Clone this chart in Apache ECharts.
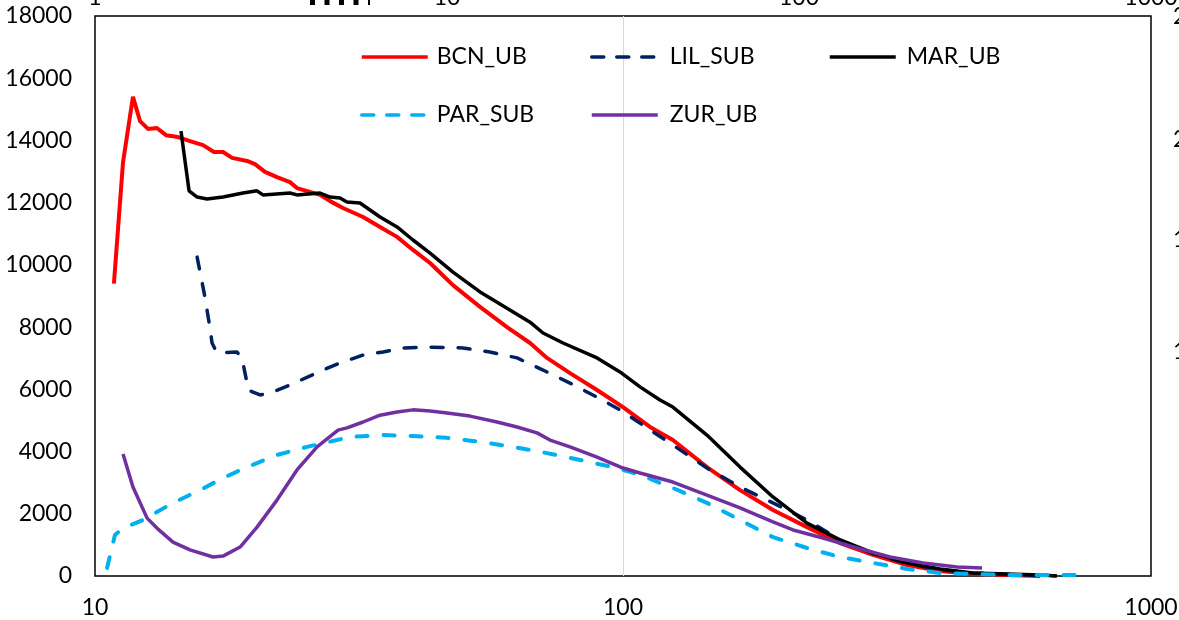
<!DOCTYPE html>
<html>
<head>
<meta charset="utf-8">
<script src="https://cdn.jsdelivr.net/npm/echarts@6/dist/echarts.min.js"></script>
<style>html,body{margin:0;padding:0;background:#fff}#c{width:1179px;height:620px}</style>
</head>
<body>
<div id="c"></div>
<script>
// ---- data ----
var bcnX = [10.86,11.30,11.80,12.17,12.60,13.10,13.63,14.36,15.13,16.02,16.80,17.48,18.18,19.41,20.09,20.99,22.11,23.40,24.13,26.68,27.87,29.49,32.19,34.66,37.33,40.02,43.11,47.64,53.61,60.30,66.68,71.78,79.36,89.29,100,112.5,124.3,144.2,166.6,192.3,223.1,257.6,297.5,345.1,398.5,460.3,533.8,616.4];
var bcnY = [9400,13300,15400,14620,14370,14400,14170,14110,13980,13850,13630,13630,13440,13340,13240,12990,12820,12660,12470,12250,12050,11830,11540,11220,10900,10480,10060,9350,8650,8000,7490,7010,6520,5980,5430,4790,4370,3500,2760,2120,1570,1060,680,350,160,64,32,0];

var lilX = [15.61,16.15,16.51,16.66,17.03,18.57,18.98,19.41,19.49,20.54,21.45,23.40,27.03,29.11,32.19,35.12,38.31,42.55,49.77,55.98,63.00,70.55,79.36,89.29,98.69,111.1,124.3,144.2,166.6,192.3,223.1,257.6,297.5,345.1,398.5,460.3,533.8,660];
var lilY = [10250,8970,7970,7490,7170,7200,7010,6200,5980,5820,5880,6140,6620,6850,7100,7200,7330,7360,7330,7200,7010,6620,6200,5750,5340,4760,4210,3470,2860,2350,1800,1160,720,400,200,100,50,0];

var marX = [14.55,15.07,15.61,16.30,17.48,19.07,20.27,20.80,23.40,24.13,26.68,27.87,29.11,30.01,31.76,34.66,37.33,40.02,43.11,47.64,53.61,60.30,66.68,70.55,77.00,89.29,98.69,107.7,117.5,124.3,144.2,166.6,192.3,223.1,257.6,297.5,345.1,398.5,460.3,533.8,616.4,663.7];
var marY = [14300,12380,12180,12120,12180,12310,12380,12250,12310,12250,12310,12180,12150,12020,11990,11540,11220,10800,10380,9770,9130,8610,8160,7810,7490,7010,6560,6080,5660,5430,4530,3500,2540,1700,1160,740,420,225,96,64,32,0];

var parX = [10.54,10.91,11.30,12.33,14.05,15.81,17.48,19.41,22.11,25.21,28.72,30.41,35.12,40.02,46.42,53.61,61.91,71.78,82.90,95.74,107.7,124.3,144.2,166.6,192.3,223.1,257.6,297.5,345.1,398.5,460.3,533.8,616.4,711.7,760];
var parY = [260,1320,1540,1800,2350,2760,3150,3500,3890,4150,4370,4470,4530,4500,4440,4310,4150,3950,3730,3500,3250,2830,2350,1800,1250,900,610,420,225,96,64,32,32,32,20];

var zurX = [11.30,11.80,12.55,13.10,14.05,15.13,16.73,17.48,18.83,20.27,22.11,24.13,26.34,28.86,30.01,32.19,34.66,37.33,40.02,43.11,46.42,51.31,57.72,63.00,68.72,72.74,79.36,89.29,100,107.7,124.3,144.2,166.6,192.3,209.9,239.2,277.5,320.4,370.1,429.2,478.6];
var zurY = [3920,2860,1860,1540,1090,840,610,640,930,1570,2440,3410,4150,4690,4760,4950,5170,5270,5340,5300,5240,5140,4950,4790,4600,4370,4150,3820,3470,3310,3020,2600,2190,1740,1480,1220,900,610,420,290,260];

var seriesNames = ['BCN_UB','LIL_SUB','MAR_UB','PAR_SUB','ZUR_UB'];
var leftTicks = {min: 0, max: 18000, interval: 2000};
var bottomRange = {min: 10, max: 1000};
var topRange = {min: 1, max: 1000};
var rightTickValues = [17968, 14014, 10800, 7200];
var rightTickLabels = ['2', '2', '1', '1'];

function pairs(xs, ys) { return xs.map(function (x, i) { return [x, ys[i]]; }); }
function plain(v) { return String(Math.round(v)); }

var FONT = 'Lato';
var FS = 23;
var colors = {BCN_UB: '#ff0000', LIL_SUB: '#002060', MAR_UB: '#000000', PAR_SUB: '#00b0f0', ZUR_UB: '#7030a0'};
var chart = echarts.init(document.getElementById('c'), null, {renderer: 'canvas'});

function legendAt(name, left, top, gap, dash) {
  return {
    data: [name], left: left, top: top, itemWidth: 66, itemHeight: 14, padding: 0,
    itemStyle: {opacity: 0},
    lineStyle: {width: 3.5, color: colors[name], type: dash || 'solid', cap: dash ? 'round' : 'butt'},
    textStyle: {fontFamily: FONT, fontSize: FS, lineHeight: 24, color: '#000', padding: [0, 0, 0, gap]},
    selectedMode: false
  };
}

chart.setOption({
  animation: false,
  backgroundColor: '#fff',
  grid: {left: 95, right: 28, top: 16, bottom: 44, show: true, borderColor: '#000', borderWidth: 1.5,
         containLabel: false, outerBoundsMode: 'none'},
  legend: [
    legendAt('BCN_UB', 360, 45, 4),
    legendAt('LIL_SUB', 590, 45, 7, [12, 13]),
    legendAt('MAR_UB', 828, 45, 6),
    legendAt('PAR_SUB', 360, 103, 4, [12, 13]),
    legendAt('ZUR_UB', 590, 103, 7)
  ],
  xAxis: [
    {type: 'log', logBase: 10, min: bottomRange.min, max: bottomRange.max, position: 'bottom',
     axisLine: {show: false}, axisTick: {show: false},
     axisLabel: {fontFamily: FONT, fontSize: FS, color: '#000', margin: 20, formatter: plain},
     splitLine: {show: true, showMinLine: false, showMaxLine: false, lineStyle: {color: '#d9d9d9', width: 1}}},
    {type: 'log', logBase: 10, min: topRange.min, max: topRange.max, position: 'top',
     axisLine: {show: false}, axisTick: {show: false},
     axisLabel: {fontFamily: FONT, fontSize: FS, color: '#000', margin: 7, formatter: plain},
     splitLine: {show: false}}
  ],
  yAxis: [
    {type: 'value', min: leftTicks.min, max: leftTicks.max, interval: leftTicks.interval,
     axisLine: {show: false}, axisTick: {show: false}, splitLine: {show: false},
     axisLabel: {fontFamily: FONT, fontSize: FS, color: '#000', margin: 23, formatter: plain}},
    {type: 'value', min: leftTicks.min, max: leftTicks.max, position: 'right',
     axisLine: {show: false}, axisTick: {show: false}, splitLine: {show: false},
     axisLabel: {fontFamily: FONT, fontSize: FS, color: '#000', margin: 22,
       customValues: rightTickValues,
       formatter: function (v) { var i = rightTickValues.indexOf(v); return i >= 0 ? rightTickLabels[i] : ''; }}}
  ],
  graphic: [
    {type: 'line', shape: {x1: 310, y1: 2.5, x2: 370, y2: 2.5}, style: {stroke: '#000', lineWidth: 5, lineDash: [5, 9.5]}, silent: true}
  ],
  series: [
    {name: seriesNames[0], type: 'line', data: pairs(bcnX, bcnY), showSymbol: false, symbol: 'none',
     lineStyle: {color: colors.BCN_UB, width: 4}, itemStyle: {color: colors.BCN_UB}},
    {name: seriesNames[1], type: 'line', data: pairs(lilX, lilY), showSymbol: false, symbol: 'none',
     lineStyle: {color: colors.LIL_SUB, width: 3.5, type: [12, 15], cap: 'round'}, itemStyle: {color: colors.LIL_SUB}},
    {name: seriesNames[2], type: 'line', data: pairs(marX, marY), showSymbol: false, symbol: 'none',
     lineStyle: {color: colors.MAR_UB, width: 3.5}, itemStyle: {color: colors.MAR_UB}},
    {name: seriesNames[3], type: 'line', data: pairs(parX, parY), showSymbol: false, symbol: 'none',
     lineStyle: {color: colors.PAR_SUB, width: 4, type: [11, 16], cap: 'round'}, itemStyle: {color: colors.PAR_SUB}},
    {name: seriesNames[4], type: 'line', data: pairs(zurX, zurY), showSymbol: false, symbol: 'none',
     lineStyle: {color: colors.ZUR_UB, width: 3.5}, itemStyle: {color: colors.ZUR_UB}}
  ]
});
</script>
</body>
</html>
